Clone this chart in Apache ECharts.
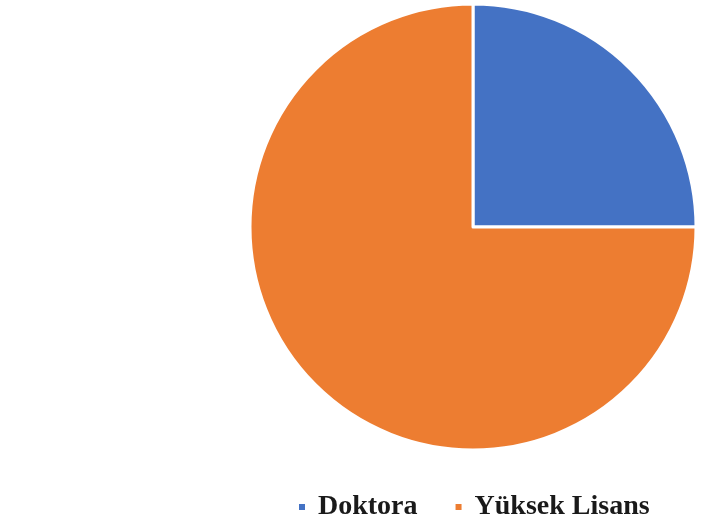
<!DOCTYPE html>
<html><head><meta charset="utf-8">
<script src="https://cdn.jsdelivr.net/npm/echarts@6/dist/echarts.min.js"></script>
<style>html,body{margin:0;padding:0;background:#fff}#c{width:706px;height:527px}</style>
</head><body><div id="c"></div>
<script>
const categories = ["Doktora", "Yüksek Lisans"];
const values = [25, 75];
const colors = ["#4472C4", "#ED7D31"];

const chart = echarts.init(document.getElementById('c'), null, {renderer: 'canvas'});
chart.setOption({
  animation: false,
  backgroundColor: '#fff',
  color: colors,
  legend: {
    data: categories,
    left: 292, top: 488, padding: 5,
    icon: 'rect', itemWidth: 8, itemHeight: 8, itemGap: 36,
    textStyle: {fontFamily: 'Liberation Serif', fontWeight: 'bold', fontSize: 28, color: '#1a1a1a', padding: [2, 0, 0, 7]}
  },
  series: [{
    type: 'pie',
    center: [473, 227],
    radius: [0, 223],
    startAngle: 90,
    clockwise: true,
    label: {show: false},
    labelLine: {show: false},
    itemStyle: {borderColor: '#fff', borderWidth: 3},
    data: categories.map((n, i) => ({name: n, value: values[i]}))
  }]
});
</script></body></html>
